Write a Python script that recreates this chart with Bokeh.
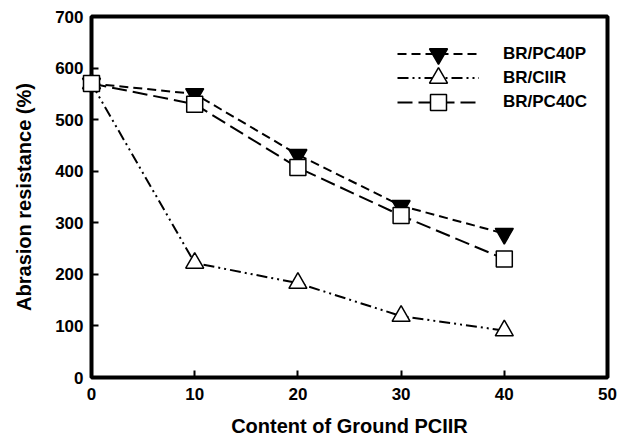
from bokeh.plotting import figure
from bokeh.models import Legend, LegendItem, FixedTicker, Range1d
from bokeh.embed import file_html
from bokeh.resources import INLINE

content = [0, 10, 20, 30, 40]
pc40p = [570, 550, 432, 333, 279]
ciir = [570, 222, 183, 119, 91]
pc40c = [570, 530, 407, 314, 230]
x_ticks = [0, 10, 20, 30, 40, 50]
y_ticks = [0, 100, 200, 300, 400, 500, 600, 700]
series_labels = ["BR/PC40P", "BR/CIIR", "BR/PC40C"]

FONT = "Liberation Sans"

W, H = 625, 439
p = figure(width=W, height=H, output_backend="svg", toolbar_location=None,
           x_range=Range1d(0, 50), y_range=Range1d(0, 700),
           min_border_left=91, min_border_right=W - 607, min_border_top=16,
           min_border_bottom=H - 377)
p.grid.visible = False
p.outline_line_color = "black"
p.outline_line_width = 4
p.background_fill_color = "white"
p.border_fill_color = "white"

for ax in (p.xaxis[0], p.yaxis[0]):
    ax.axis_line_color = None
    ax.major_tick_in = 7
    ax.major_tick_out = 0
    ax.minor_tick_line_color = None
    ax.major_tick_line_width = 2
    ax.major_tick_line_color = "black"
    ax.major_label_text_font = FONT
    ax.major_label_text_font_style = "bold"
    ax.major_label_text_font_size = "17px"
    ax.major_label_text_color = "black"
    ax.axis_label_text_font = FONT
    ax.axis_label_text_font_style = "bold"
    ax.axis_label_text_font_size = "20px"
    ax.axis_label_text_color = "black"

p.xaxis[0].ticker = FixedTicker(ticks=x_ticks)
p.yaxis[0].ticker = FixedTicker(ticks=y_ticks)
p.xaxis[0].axis_label = "Content of Ground PCIIR"
p.yaxis[0].axis_label = "Abrasion resistance (%)"
p.xaxis[0].major_label_standoff = 10
p.xaxis[0].axis_label_standoff = 12
p.yaxis[0].major_label_standoff = 8
p.yaxis[0].axis_label_standoff = 17

l1 = p.line(content, pc40p, line_color="black", line_width=2, line_dash="9 5")
l2 = p.line(content, ciir, line_color="black", line_width=2, line_dash="11 4 2 4 2 4")
l3 = p.line(content, pc40c, line_color="black", line_width=2, line_dash="15 6")

s1 = p.scatter(content, pc40p, marker="inverted_triangle", size=18, fill_color="black",
               line_color="black", line_width=1.5, level="overlay")
s2 = p.scatter(content, ciir, marker="triangle", size=18, fill_color="white",
               line_color="black", line_width=1.5, level="overlay")
s3 = p.scatter(content, pc40c, marker="square", size=16, fill_color="white",
               line_color="black", line_width=1.5, level="overlay")

# one single-item legend per series so that legend markers keep full size
entries = [
    (series_labels[0], [l1, s1], 45, (306, 301)),
    (series_labels[1], [l2, s2], 45, (306, 277)),
    (series_labels[2], [l3, s3], 40, (306, 255)),
]
for label, rends, gh, loc in entries:
    lg = Legend(items=[LegendItem(label=label, renderers=rends)], location=loc)
    lg.border_line_color = None
    lg.background_fill_alpha = 0
    lg.padding = 0
    lg.spacing = 0
    lg.margin = 0
    lg.glyph_width = 82
    lg.glyph_height = gh
    lg.label_height = 21
    lg.label_standoff = 24
    lg.label_text_font = FONT
    lg.label_text_font_style = "bold"
    lg.label_text_font_size = "17px"
    lg.label_text_color = "black"
    p.add_layout(lg)

open("out.html", "w").write(file_html(p, INLINE))
